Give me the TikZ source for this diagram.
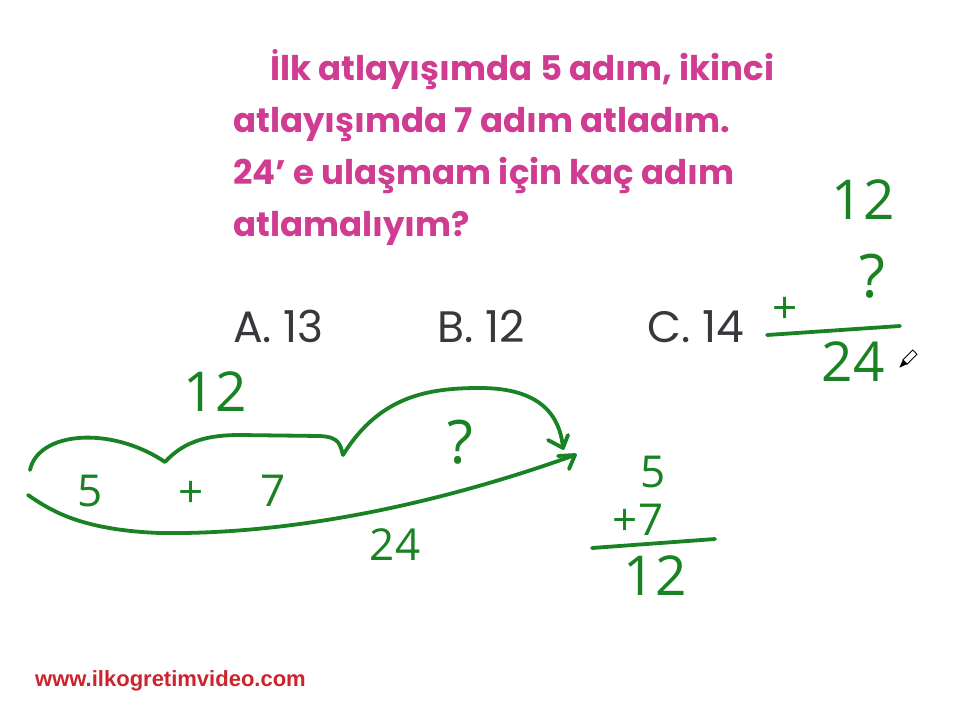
\documentclass[tikz,border=0pt]{standalone}
\usepackage{fontspec}
\setmainfont{Poppins}
\newfontfamily\qfont{Poppins}
\newfontfamily\hfont{Open Sans}
\newfontfamily\wfont{Liberation Sans}
\definecolor{qpink}{RGB}{208,60,145}
\definecolor{agray}{RGB}{55,55,60}
\definecolor{hgreen}{RGB}{25,130,35}
\definecolor{wred}{RGB}{205,35,45}
\begin{document}
\begin{tikzpicture}[x=1pt,y=-1pt,
  qline/.style={anchor=base west,inner sep=0pt,text=qpink,font=\qfont\bfseries\fontsize{34}{34}\selectfont},
  ans/.style={anchor=base west,inner sep=0pt,text=agray,font=\qfont\fontsize{44}{44}\selectfont},
  hw/.style={inner sep=0pt,text=hgreen,font=\hfont\fontsize{55}{55}\selectfont},
  hws/.style={inner sep=0pt,text=hgreen,font=\hfont\fontsize{44}{44}\selectfont},
  hwq/.style={inner sep=0pt,text=hgreen,font=\hfont\fontsize{60}{60}\selectfont},
  pen/.style={draw=hgreen,line width=3.8pt,line cap=round,line join=round}]
\useasboundingbox[fill=white] (0,0) rectangle (960,720);
% question
\node[qline] (q1) at (270,80) {İlk atlayışımda 5 adım, ikinci};
\node[qline] (q2) at (233,132) {atlayışımda 7 adım atladım.};
\node[qline] (q3) at (233,184) {24’ e ulaşmam için kaç adım};
\node[qline] (q4) at (233,236) {atlamalıyım?};
% answers
\node[ans] (a) at (233,342) {A. 13};
\node[ans] (b) at (437,342) {B. 12};
\node[ans] (c) at (647,342) {C. 14};
% curves
\coordinate (s1) at (30,470);
\coordinate (k1) at (165,462);
\coordinate (k2) at (343,455);
\coordinate (e1) at (563,448);
\draw[pen] (s1) .. controls (38,432) and (110,425) .. (k1)
  .. controls (185,440) and (210,435) .. (240,435)
  -- (320,436) .. controls (340,437) and (340,445) .. (k2)
  .. controls (380,395) and (430,388) .. (480,388)
  .. controls (540,388) and (560,415) .. (e1);
\draw[pen] (548,440) -- (e1) -- (568,435);
\coordinate (s2) at (28,495);
\coordinate (e2) at (575,455);
\draw[pen] (s2) .. controls (50,510) and (80,530) .. (160,533)
  .. controls (300,535) and (450,500) .. (e2);
\draw[pen] (558,456) -- (e2) -- (569,469);
% labels
\node[hw] (n12) at (215,392) {12};
\node[hws] (n5) at (90,491) {5};
\node[hws] (np) at (191,494) {+};
\node[hws] (n7) at (273,491) {7};
\node[hwq] (nq) at (460,442) {?};
\node[hws] (n24) at (395,545) {24};
% right sum
\node[hws] (r5) at (653,472) {5};
\node[hws] (r7) at (638,520) {+7};
\coordinate (l1) at (592,548);
\coordinate (l2) at (715,539);
\draw[pen] (l1) -- (l2);
\node[hw] (r12) at (655,576) {12};
% top right sum
\node[hw] (t12) at (863,200) {12};
\node[hwq] (tq) at (872,276) {?};
\node[hws] (tp) at (785,310) {+};
\coordinate (m1) at (767,335);
\coordinate (m2) at (900,326);
\draw[pen] (m1) -- (m2);
\node[hw] (t24) at (853,362) {24};
% pen cursor
\begin{scope}[shift={(905,362)},rotate=-45]
\draw[black,line width=0.8pt,fill=white] (-3,-14) rectangle (3,0);
\fill[black] (-3,0) -- (3,0) -- (0,8) -- cycle;
\end{scope}
% website
\node[anchor=base west,inner sep=0pt,text=wred,font=\wfont\bfseries\fontsize{22}{22}\selectfont] (web) at (35,686) {www.ilkogretimvideo.com};
\end{tikzpicture}
\end{document}
